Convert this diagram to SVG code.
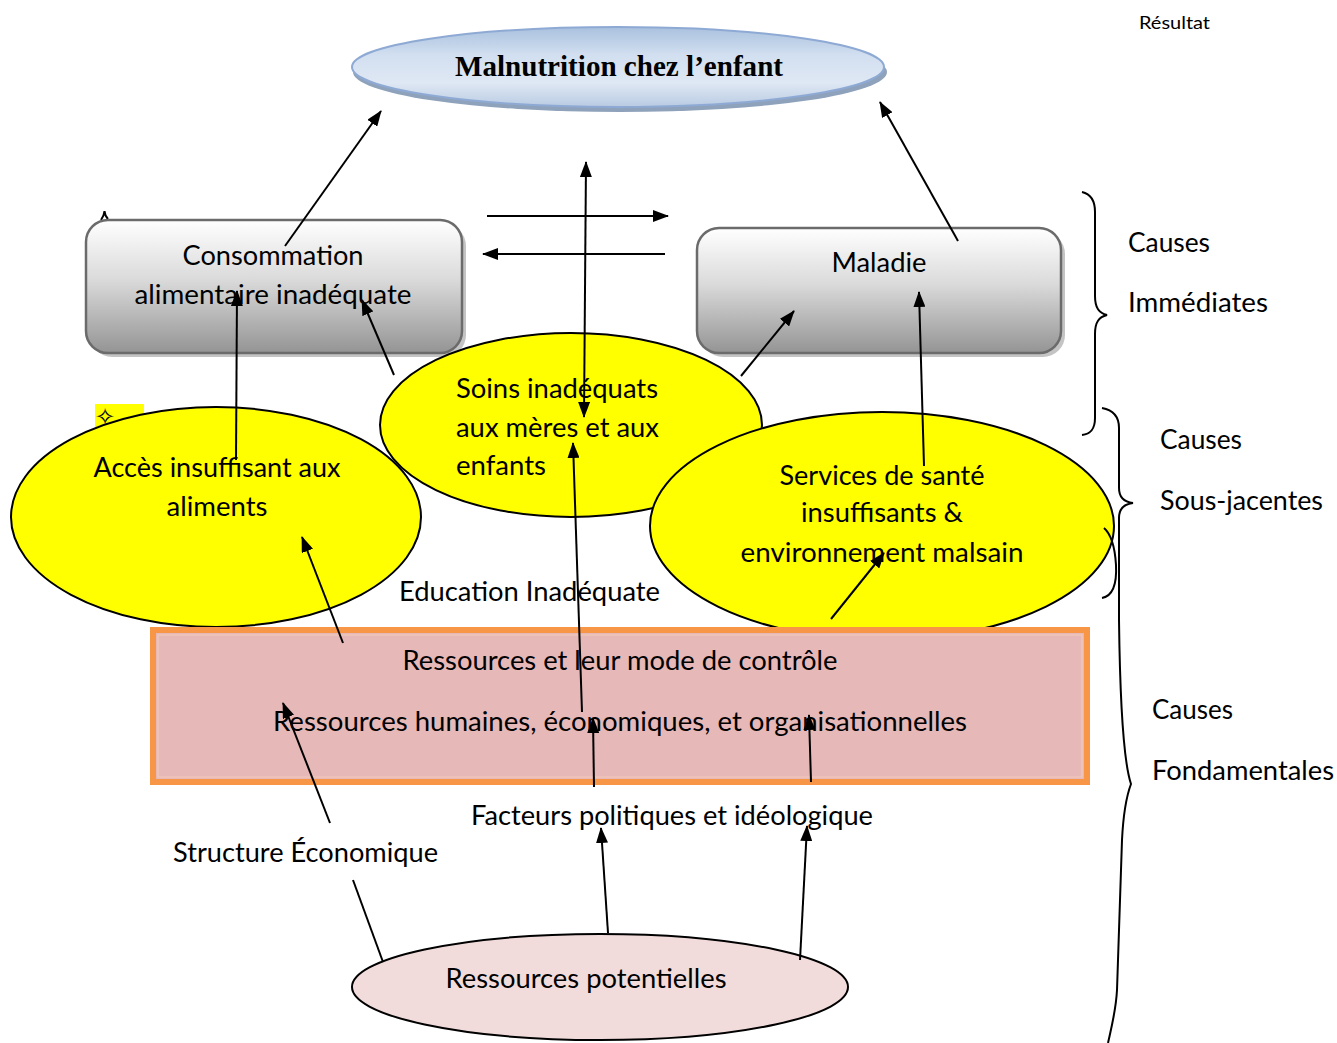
<svg xmlns="http://www.w3.org/2000/svg" width="1337" height="1043" viewBox="0 0 1337 1043">
<defs>
<linearGradient id="gBox" x1="0" y1="0" x2="0" y2="1">
<stop offset="0" stop-color="#ffffff"/>
<stop offset="0.45" stop-color="#dadada"/>
<stop offset="1" stop-color="#949494"/>
</linearGradient>
<linearGradient id="gTop" x1="0" y1="0" x2="0" y2="1">
<stop offset="0" stop-color="#a9c1de"/>
<stop offset="0.35" stop-color="#d2dff0"/>
<stop offset="0.7" stop-color="#dfe8f4"/>
<stop offset="1" stop-color="#b9cbe2"/>
</linearGradient>
<marker id="ah" viewBox="0 0 16 12" refX="15" refY="6" markerWidth="16" markerHeight="12" markerUnits="userSpaceOnUse" orient="auto-start-reverse">
<path d="M0,0 L16,6 L0,12 z" fill="#000"/>
</marker>
</defs>
<style>
.t{font-family:Lato,"Liberation Sans",sans-serif;font-size:26px;fill:#000}
.c{text-anchor:middle}
.yel{fill:#ffff00;stroke:#000;stroke-width:2}
.box{fill:url(#gBox);stroke:#6b6b6b;stroke-width:2.5}
.shadow{fill:#c4c4c4}
.ln{stroke:#000;stroke-width:2;fill:none}
.ar{stroke:#000;stroke-width:2;fill:none;marker-end:url(#ah)}
.br{stroke:#000;stroke-width:2;fill:none}
</style>
<rect width="1337" height="1043" fill="#ffffff"/>

<text class="t" x="1139" y="29" style="font-size:17px" textLength="71" lengthAdjust="spacingAndGlyphs">Résultat</text>

<g id="malnutrition">
<ellipse cx="620" cy="72" rx="267" ry="40" fill="#8fa2bb"/>
<ellipse cx="618" cy="67" rx="266" ry="40" fill="url(#gTop)" stroke="#8eaad4" stroke-width="2"/>
<text x="619" y="76" text-anchor="middle" font-family="Liberation Serif,serif" font-weight="bold" font-size="29" textLength="328" lengthAdjust="spacingAndGlyphs">Malnutrition chez l’enfant</text>
</g>

<path d="M101,220 Q104,216 104.5,211 Q105,216 108,219" class="ln" stroke-width="1.2"/>

<g id="consommation">
<rect x="90" y="224" width="376" height="133" rx="22" class="shadow"/>
<rect x="86" y="220" width="376" height="133" rx="22" class="box"/>
<text class="t c" x="273" y="265" textLength="181" lengthAdjust="spacingAndGlyphs">Consommation</text>
<text class="t c" x="273" y="304" textLength="277" lengthAdjust="spacingAndGlyphs">alimentaire inadéquate</text>
</g>

<g id="maladie">
<rect x="701" y="232" width="364" height="125" rx="22" class="shadow"/>
<rect x="697" y="228" width="364" height="125" rx="22" class="box"/>
<text class="t c" x="879" y="272" textLength="95" lengthAdjust="spacingAndGlyphs">Maladie</text>
</g>

<g id="soins">
<ellipse cx="571" cy="425" rx="191" ry="92" class="yel"/>
<text class="t" x="456" y="398" textLength="202" lengthAdjust="spacingAndGlyphs">Soins inadéquats</text>
<text class="t" x="456" y="437" textLength="203" lengthAdjust="spacingAndGlyphs">aux mères et aux</text>
<text class="t" x="456" y="475" textLength="90" lengthAdjust="spacingAndGlyphs">enfants</text>
</g>

<g id="acces">
<rect x="95" y="404" width="49" height="23" fill="#ffff00"/>
<text x="95" y="425" font-family="DejaVu Sans,sans-serif" font-size="24" fill="#000">✧</text>
<ellipse cx="216" cy="517" rx="205" ry="110" class="yel"/>
<text class="t c" x="217" y="477" textLength="247" lengthAdjust="spacingAndGlyphs">Accès insuffisant aux</text>
<text class="t c" x="217" y="516" textLength="101" lengthAdjust="spacingAndGlyphs">aliments</text>
</g>

<g id="services">
<ellipse cx="882" cy="526" rx="232" ry="114" class="yel"/>
<text class="t c" x="882" y="485" textLength="205" lengthAdjust="spacingAndGlyphs">Services de santé</text>
<text class="t c" x="882" y="522" textLength="162" lengthAdjust="spacingAndGlyphs">insuffisants &amp;</text>
<text class="t c" x="882" y="562" textLength="283" lengthAdjust="spacingAndGlyphs">environnement malsain</text>
</g>

<g id="education">
<text class="t" x="399" y="601" textLength="261" lengthAdjust="spacingAndGlyphs">Education Inadéquate</text>
</g>

<g id="ressources">
<rect x="153" y="630" width="934" height="152" fill="#e6b8b7" stroke="#f79646" stroke-width="6"/>
<rect x="158" y="635" width="924" height="142" fill="none" stroke="#efc5bb" stroke-width="1.5"/>
<text class="t c" x="620" y="670" textLength="435" lengthAdjust="spacingAndGlyphs">Ressources et leur mode de contrôle</text>
<text class="t c" x="620" y="731" textLength="694" lengthAdjust="spacingAndGlyphs">Ressources humaines, économiques, et organisationnelles</text>
</g>

<g id="facteurs">
<text class="t" x="471" y="825" textLength="402" lengthAdjust="spacingAndGlyphs">Facteurs politiques et idéologique</text>
</g>

<g id="structure">
<text class="t" x="173" y="862" textLength="265" lengthAdjust="spacingAndGlyphs">Structure Économique</text>
</g>

<g id="potentielles">
<ellipse cx="600" cy="987" rx="248" ry="53" fill="#f2dcdb" stroke="#000" stroke-width="2"/>
<text class="t c" x="586" y="988" textLength="281" lengthAdjust="spacingAndGlyphs">Ressources potentielles</text>
</g>

<g id="labels">
<text class="t" x="1128" y="252" textLength="82" lengthAdjust="spacingAndGlyphs">Causes</text>
<text class="t" x="1128" y="312" textLength="140" lengthAdjust="spacingAndGlyphs">Immédiates</text>
<text class="t" x="1160" y="449" textLength="82" lengthAdjust="spacingAndGlyphs">Causes</text>
<text class="t" x="1160" y="510" textLength="163" lengthAdjust="spacingAndGlyphs">Sous-jacentes</text>
<text class="t" x="1152" y="719" textLength="81" lengthAdjust="spacingAndGlyphs">Causes</text>
<text class="t" x="1152" y="780" textLength="182" lengthAdjust="spacingAndGlyphs">Fondamentales</text>
</g>

<g id="braces">
<path class="br" d="M1082,192 C1091,194 1095,200 1095,212 L1095,296 C1095,308 1099,313 1107,315 C1099,317 1095,322 1095,334 L1095,418 C1095,430 1090,434 1082,435"/>
<path class="br" d="M1102,408 C1113,410 1119,416 1119,428 L1119,488 C1119,498 1124,502 1133,503 C1124,504 1119,508 1119,518 L1119,620 C1120,700 1123,760 1131,784 C1125,800 1123,820 1122,840 L1117,990 C1116,1010 1112,1025 1108,1043"/>
<path class="br" d="M1104,528 C1112,535 1115,548 1116,565 C1117,585 1113,596 1102,598"/>
</g>

<g id="connectors">
<line class="ar" x1="285" y1="246" x2="381" y2="111"/>
<line class="ar" x1="958" y1="241" x2="880" y2="102"/>
<line class="ar" x1="586" y1="162" x2="584" y2="417" style="marker-start:url(#ah)"/>
<line class="ar" x1="487" y1="216" x2="668" y2="216"/>
<line class="ar" x1="665" y1="254" x2="483" y2="254"/>
<line class="ar" x1="236" y1="460" x2="237" y2="291"/>
<line class="ar" x1="394" y1="375" x2="362" y2="300"/>
<line class="ar" x1="741" y1="376" x2="794" y2="311"/>
<line class="ar" x1="924" y1="466" x2="919" y2="292"/>
<line class="ar" x1="582" y1="712" x2="573" y2="443"/>
<line class="ar" x1="343" y1="643" x2="302" y2="537"/>
<line class="ar" x1="831" y1="619" x2="884" y2="553"/>
<line class="ar" x1="330" y1="823" x2="283" y2="703"/>
<line class="ar" x1="594" y1="787" x2="593" y2="718"/>
<line class="ar" x1="811" y1="782" x2="809" y2="715"/>
<line class="ar" x1="608" y1="933" x2="601" y2="828"/>
<line class="ar" x1="800" y1="960" x2="807" y2="826"/>
<line class="ln" x1="383" y1="962" x2="353" y2="880"/>
</g>
</svg>
